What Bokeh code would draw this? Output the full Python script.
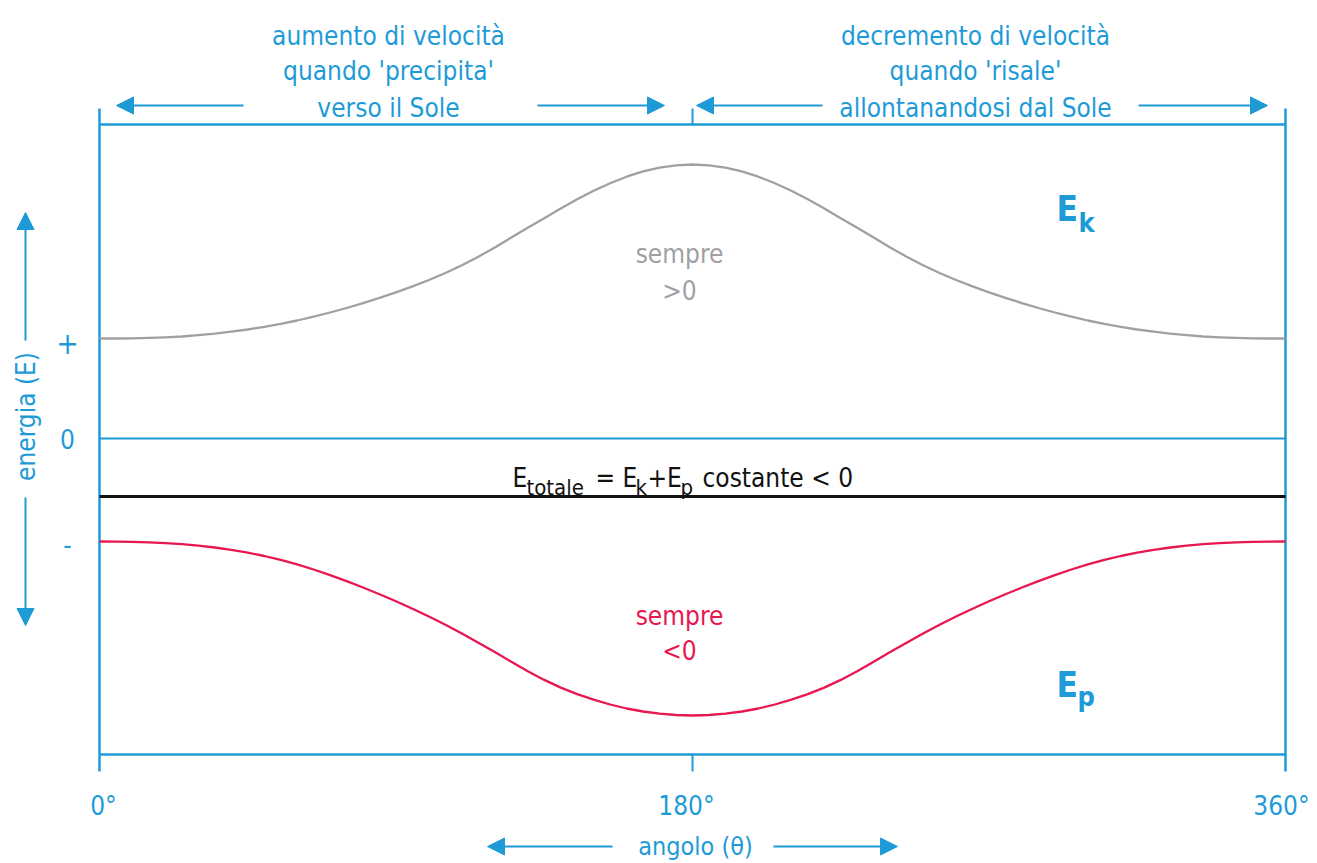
from bokeh.plotting import figure
from bokeh.models import Range1d, Arrow, NormalHead, Label
from bokeh.embed import file_html
from bokeh.resources import INLINE

# ---------------- data ----------------
theta = [0, 5, 10, 15, 20, 25, 30, 35, 40, 45, 50, 55, 60, 65, 70, 75, 80, 85, 90,
         95, 100, 105, 110, 115, 120, 125, 130, 135, 140, 145, 150, 155, 160, 165, 170, 175, 180,
         185, 190, 195, 200, 205, 210, 215, 220, 225, 230, 235, 240, 245, 250, 255, 260, 265, 270,
         275, 280, 285, 290, 295, 300, 305, 310, 315, 320, 325, 330, 335, 340, 345, 350, 355, 360]
e_kin = [1.000, 1.000, 1.002, 1.006, 1.012, 1.020, 1.033, 1.048, 1.068, 1.090, 1.116, 1.146, 1.180,
         1.218, 1.260, 1.305, 1.354, 1.407, 1.462, 1.521, 1.585, 1.655, 1.733, 1.818, 1.911, 2.010,
         2.107, 2.203, 2.300, 2.392, 2.478, 2.553, 2.618, 2.671, 2.709, 2.732, 2.740,
         2.732, 2.709, 2.671, 2.618, 2.553, 2.478, 2.392, 2.300, 2.203, 2.107, 2.010, 1.911, 1.818,
         1.733, 1.655, 1.585, 1.521, 1.462, 1.407, 1.354, 1.305, 1.260, 1.218, 1.180, 1.146, 1.116,
         1.090, 1.068, 1.048, 1.033, 1.020, 1.012, 1.006, 1.002, 1.000, 1.000]
e_pot = [-1.030, -1.031, -1.033, -1.038, -1.046, -1.057, -1.071, -1.090, -1.113, -1.141, -1.175, -1.214, -1.259,
         -1.310, -1.366, -1.426, -1.490, -1.558, -1.628, -1.702, -1.780, -1.862, -1.950, -2.042, -2.136, -2.233,
         -2.327, -2.414, -2.491, -2.556, -2.612, -2.660, -2.700, -2.730, -2.752, -2.765, -2.770,
         -2.765, -2.752, -2.730, -2.700, -2.660, -2.612, -2.556, -2.491, -2.414, -2.327, -2.233, -2.136, -2.042,
         -1.950, -1.862, -1.780, -1.702, -1.628, -1.558, -1.490, -1.426, -1.366, -1.310, -1.259, -1.214, -1.175,
         -1.141, -1.113, -1.090, -1.071, -1.057, -1.046, -1.038, -1.033, -1.031, -1.030]
e_tot = -0.58
x_ticks = [0, 180, 360]
x_tick_labels = ["0°", "180°", "360°"]
y_tick_labels = ["+", "0", "-"]
top_lines = [["aumento di velocità", "quando 'precipita'", "verso il Sole"],
             ["decremento di velocità", "quando 'risale'", "allontanandosi dal Sole"]]

# ---------------- layout helpers (reference pixel -> data) ----------------
K = 1186 / 360.0


def X(px):
    return (px - 99) / K


def Y(py):
    return (438 - py) / 100.0


BLUE = "#1e9bd7"
GRAY = "#a0a0a4"
RED = "#e8174f"
BLACK = "#111111"
FONT = "DejaVu Sans Condensed"

p = figure(width=1317, height=863,
           x_range=Range1d(X(0), X(1317)), y_range=Range1d(Y(863), Y(0)),
           output_backend="svg", toolbar_location=None,
           x_axis_type=None, y_axis_type=None, min_border=0,
           outline_line_color=None, background_fill_color="white",
           border_fill_color="white")

top_e, bot_e = Y(124), Y(754)
tick_top, tick_bot = Y(108), Y(771)

# frame
p.segment(x0=[x_ticks[0]], x1=[x_ticks[-1]], y0=[top_e], y1=[top_e], line_color=BLUE, line_width=2.5)
p.segment(x0=[x_ticks[0]], x1=[x_ticks[-1]], y0=[bot_e], y1=[bot_e], line_color=BLUE, line_width=2.5)
p.segment(x0=[x_ticks[0], x_ticks[-1]], x1=[x_ticks[0], x_ticks[-1]], y0=[tick_top, tick_top], y1=[tick_bot, tick_bot],
          line_color=BLUE, line_width=2.5)
p.segment(x0=[x_ticks[1], x_ticks[1]], x1=[x_ticks[1], x_ticks[1]], y0=[tick_top, bot_e], y1=[top_e, tick_bot],
          line_color=BLUE, line_width=2)
# zero line
p.segment(x0=[x_ticks[0]], x1=[x_ticks[-1]], y0=[0], y1=[0], line_color=BLUE, line_width=2)
# total energy
p.segment(x0=[x_ticks[0]], x1=[x_ticks[-1]], y0=[e_tot], y1=[e_tot], line_color=BLACK, line_width=3)

# curves
p.line(theta, e_kin, line_color=GRAY, line_width=2.3, line_join="round")
p.line(theta, e_pot, line_color=RED, line_width=2.3, line_join="round")


def lab(x, y, text, size="26px", color=BLUE, align="center", baseline="alphabetic", style="normal", angle=0):
    p.add_layout(Label(x=x, y=y, text=text, text_font=FONT, text_font_size=size, text_color=color,
                       text_align=align, text_baseline=baseline, text_font_style=style, angle=angle))


def arrow(x0, y0, x1, y1):
    p.add_layout(Arrow(end=NormalHead(size=17, fill_color=BLUE, line_color=BLUE, line_width=1),
                       x_start=x0, y_start=y0, x_end=x1, y_end=y1, line_color=BLUE, line_width=2))


# top texts
for cx, lines in zip([388, 975], top_lines):
    for by, t in zip([35, 70, 107], lines):
        lab(X(cx), Y(by), t)

# top arrows
ya = Y(105)
arrow(X(243), ya, X(116), ya)
arrow(X(537), ya, X(664), ya)
arrow(X(822), ya, X(696), ya)
arrow(X(1138), ya, X(1267), ya)

# y labels
for py, t, sz in zip([342, 438, 543], y_tick_labels, ["30px", "26px", "26px"]):
    lab(X(67), Y(py), t, size=sz, baseline="middle")

# y axis title with arrows
arrow(X(25), Y(340), X(25), Y(212))
arrow(X(25), Y(497), X(25), Y(625))
lab(X(25), Y(416), "energia (E)", baseline="middle", angle=1.5707963)

# x tick labels
for xt, t, dx in zip(x_ticks, x_tick_labels, [4, -6, -4]):
    lab(xt + dx / K, Y(805), t)

# x axis title with arrows
yb = Y(846)
arrow(X(612), yb, X(487), yb)
arrow(X(773), yb, X(897), yb)
lab(X(695), Y(846), "angolo (θ)", size="25px", baseline="middle")

# curve annotations
lab(X(679), Y(253), "sempre", color=GRAY)
lab(X(679), Y(290), ">0", color=GRAY)
lab(X(679), Y(615), "sempre", color=RED)
lab(X(679), Y(650), "<0", color=RED)

# E_k and E_p
lab(X(1056), Y(208), "E", size="35px", align="left", style="bold")
lab(X(1078), Y(222), "k", size="27px", align="left", style="bold")
lab(X(1056), Y(684), "E", size="35px", align="left", style="bold")
lab(X(1077), Y(696), "p", size="27px", align="left", style="bold")

# total energy formula
for px, t, sub in [(512, "E", False), (526, "totale", True), (595, "= E", False),
                   (635, "k", True), (647, "+E", False), (680, "p", True),
                   (702, "costante < 0", False)]:
    lab(X(px), Y(487 if sub else 477), t, size="22px" if sub else "26px", color=BLACK, align="left")

open("out.html", "w").write(file_html(p, INLINE))
